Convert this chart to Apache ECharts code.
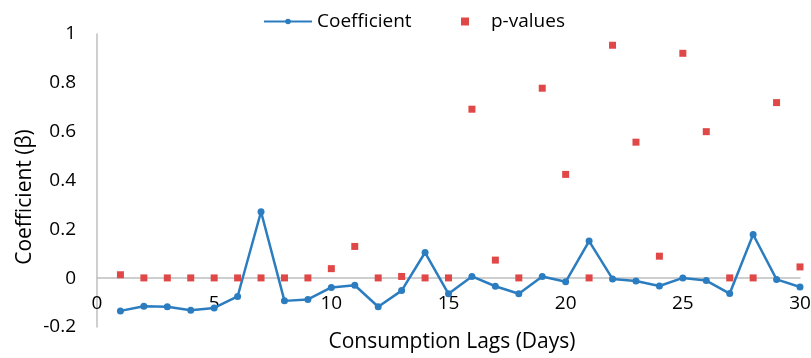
<!DOCTYPE html>
<html>
<head>
<meta charset="utf-8">
<script src="https://cdn.jsdelivr.net/npm/echarts@6/dist/echarts.min.js"></script>
<style>
  html, body { margin: 0; padding: 0; background: #ffffff; }
  #chart { width: 811px; height: 358px; }
</style>
</head>
<body>
<div id="chart"></div>
<script>
// Lag (days) for each estimate
const lags = [1, 2, 3, 4, 5, 6, 7, 8, 9, 10, 11, 12, 13, 14, 15,
              16, 17, 18, 19, 20, 21, 22, 23, 24, 25, 26, 27, 28, 29, 30];

// Regression coefficient (β) per lag
const coefficient = [-0.134, -0.115, -0.117, -0.131, -0.122, -0.075, 0.272, -0.093, -0.087, -0.038,
                     -0.029, -0.117, -0.051, 0.105, -0.064, 0.007, -0.033, -0.064, 0.007, -0.015,
                     0.152, -0.003, -0.012, -0.032, 0.001, -0.010, -0.063, 0.179, -0.005, -0.036];

// p-value per lag
const pValues = [0.014, 0.001, 0.001, 0.001, 0.001, 0.001, 0.001, 0.001, 0.001, 0.039,
                 0.130, 0.001, 0.007, 0.001, 0.001, 0.692, 0.074, 0.001, 0.778, 0.425,
                 0.001, 0.954, 0.557, 0.090, 0.921, 0.600, 0.001, 0.001, 0.719, 0.046];

const FONT = '"Open Sans", "Liberation Sans", sans-serif';
const BLUE = '#2B7DC0';
const RED = '#E04848';
const AXIS_GRAY = '#BFBFBF';

const Y_MIN = -0.2, Y_MAX = 1;
const GRID = { left: 97, right: 11, top: 34, bottom: 31 };
const CHART_H = 358;
// The lag axis sits on the β = 0 line; shift it up from the grid bottom by that distance.
const plotH = CHART_H - GRID.top - GRID.bottom;
const zeroShift = plotH * (0 - Y_MIN) / (Y_MAX - Y_MIN);

const chart = echarts.init(document.getElementById('chart'), null, { renderer: 'canvas' });

chart.setOption({
  animation: false,
  backgroundColor: '#ffffff',
  textStyle: { fontFamily: FONT, color: '#000' },
  grid: Object.assign({ containLabel: false, outerBoundsMode: 'none' }, GRID),
  legend: [
    {
      data: ['Coefficient'],
      left: 258, top: 7,
      itemWidth: 48, itemHeight: 7, itemGap: 6,
      textStyle: { fontFamily: FONT, fontSize: 19, color: '#000' }
    },
    {
      data: [{ name: 'p-values', icon: 'rect' }],
      left: 456, top: 7,
      itemWidth: 8, itemHeight: 8, itemGap: 6,
      textStyle: { fontFamily: FONT, fontSize: 19, color: '#000', padding: [0, 0, 0, 17] }
    }
  ],
  xAxis: {
    type: 'value',
    min: 0, max: 30, interval: 5,
    offset: -zeroShift,
    axisLine: { show: true, onZero: false, lineStyle: { color: AXIS_GRAY, width: 1.5 } },
    axisTick: { show: false },
    splitLine: { show: false },
    axisLabel: { margin: 16, fontFamily: FONT, fontSize: 19, color: '#000' }
  },
  yAxis: {
    type: 'value',
    min: Y_MIN, max: Y_MAX, interval: 0.2,
    axisLine: { show: true, lineStyle: { color: AXIS_GRAY, width: 1.5 } },
    axisTick: { show: false },
    splitLine: { show: false },
    axisLabel: {
      margin: 21, fontFamily: FONT, fontSize: 19, color: '#000',
      formatter: v => String(Math.round(v * 10) / 10)
    }
  },
  graphic: [
    {
      type: 'text',
      x: 25, y: 197,
      rotation: Math.PI / 2,
      style: {
        text: 'Coefficient (β)',
        font: '21px ' + FONT,
        fill: '#000',
        align: 'center',
        verticalAlign: 'middle'
      }
    },
    {
      type: 'text',
      x: 452, y: 342,
      style: {
        text: 'Consumption Lags (Days)',
        font: '21px ' + FONT,
        fill: '#000',
        align: 'center',
        verticalAlign: 'middle'
      }
    }
  ],
  series: [
    {
      name: 'Coefficient',
      type: 'line',
      data: lags.map((d, i) => [d, coefficient[i]]),
      symbol: 'circle',
      symbolSize: 7,
      lineStyle: { color: BLUE, width: 2.5 },
      itemStyle: { color: BLUE },
      z: 2
    },
    {
      name: 'p-values',
      type: 'scatter',
      data: lags.map((d, i) => [d, pValues[i]]),
      symbol: 'rect',
      symbolSize: 7,
      itemStyle: { color: RED, opacity: 1 },
      z: 3
    }
  ]
});
</script>
</body>
</html>
